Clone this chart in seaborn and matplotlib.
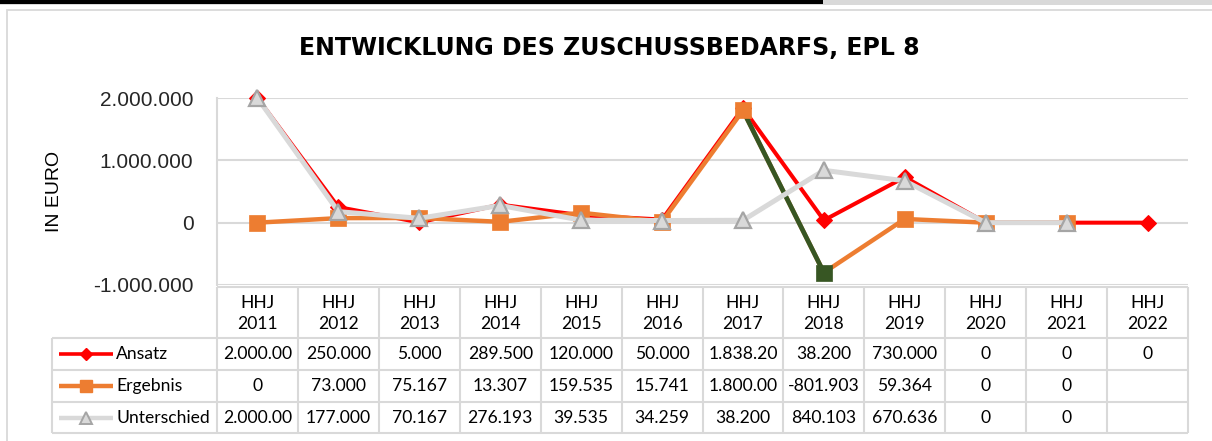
import numpy as np
import pandas as pd
import matplotlib
matplotlib.use("Agg")
import matplotlib.pyplot as plt
from matplotlib.lines import Line2D
from matplotlib.patches import Rectangle
from matplotlib.ticker import FixedLocator, FuncFormatter
import seaborn as sns

# ---- data -------------------------------------------------------------
years = ["2011", "2012", "2013", "2014", "2015", "2016",
         "2017", "2018", "2019", "2020", "2021", "2022"]
ansatz = [2000000, 250000, 5000, 289500, 120000, 50000,
          1838200, 38200, 730000, 0, 0, 0]
ergebnis = [0, 73000, 75167, 13307, 159535, 15741,
            1800000, -801903, 59364, 0, 0, np.nan]
unterschied = [2000000, 177000, 70167, 276193, 39535, 34259,
               38200, 840103, 670636, 0, 0, np.nan]
series_names = ["Ansatz", "Ergebnis", "Unterschied"]
y_ticks = [-1000000, 0, 1000000, 2000000]
title = "ENTWICKLUNG DES ZUSCHUSSBEDARFS, EPL 8"
y_label = "IN EURO"
period_prefix = "HHJ"
# Ergebnis point that is highlighted (year of the drop)
highlight_year = "2018"

# ---- styling ------------------------------------------------------------
RED = "#FF0000"
ORANGE = "#ED7D31"
GREEN = "#375623"
LIGHT = "#D9D9D9"
TRI_EDGE = "#A5A5A5"
GRID = "#D9D9D9"

W, H = 1212, 441
sns.set_theme(style="white")
plt.rcParams["font.family"] = ["Lato", "DejaVu Sans"]

fig = plt.figure(figsize=(W / 100, H / 100), dpi=100)
fig.patch.set_facecolor("white")


def fx(px):
    return px / W


def fy(py):
    return 1 - py / H


# frame strips along the top and the chart-area border
fig.add_artist(Rectangle((0, fy(5)), 1, 5 / H, transform=fig.transFigure,
                         color="#D9D9D9", lw=0, zorder=0))
fig.add_artist(Rectangle((0, fy(3.5)), fx(823), 3.5 / H, transform=fig.transFigure,
                         color="black", lw=0, zorder=1))
fig.add_artist(Rectangle((fx(7), -0.2), 1.2, fy(9.5) + 0.2, transform=fig.transFigure,
                         fill=False, ec="#D9D9D9", lw=1.3, zorder=1))

# ---- plot area -----------------------------------------------------------
PL, PR, PT, PB = 217, 1188, 98, 285
ax = fig.add_axes([fx(PL), fy(PB), fx(PR - PL), (PB - PT) / H])
ax.set_facecolor("none")

idx = np.arange(len(years))
df = pd.DataFrame({
    "pos": np.tile(idx, 3),
    "Jahr": np.tile(years, 3),
    "Serie": np.repeat(series_names, len(years)),
    "Wert": ansatz + ergebnis + unterschied,
})
d_a = df[df.Serie == "Ansatz"]
d_e = df[(df.Serie == "Ergebnis") & df.Wert.notna()]
d_u = df[(df.Serie == "Unterschied") & df.Wert.notna()]
h_pos = years.index(highlight_year)
d_seg = d_e[d_e.pos.isin([h_pos - 1, h_pos])]
d_e_mark = d_e[d_e.pos != h_pos]
d_h_mark = d_e[d_e.pos == h_pos]

common = dict(ax=ax, x="pos", y="Wert", estimator=None, legend=False)
sns.lineplot(data=d_a, color=RED, lw=2.9, marker="D", markersize=8.5,
             markeredgecolor=RED, zorder=3, clip_on=False, **common)
sns.lineplot(data=d_e, color=ORANGE, lw=3.2, zorder=3.5, clip_on=False, **common)
sns.lineplot(data=d_seg, color=GREEN, lw=3.4, zorder=3.6, clip_on=False, **common)
sns.scatterplot(data=d_e_mark, x="pos", y="Wert", ax=ax, marker="s", s=130,
                color=ORANGE, edgecolor=ORANGE, linewidth=0.5, zorder=3.8,
                clip_on=False, legend=False)
sns.scatterplot(data=d_h_mark, x="pos", y="Wert", ax=ax, marker="s", s=130,
                color=GREEN, edgecolor=GREEN, linewidth=0.5, zorder=3.8,
                clip_on=False, legend=False)
sns.lineplot(data=d_u, color=LIGHT, lw=3.6, marker="^", markersize=12,
             markerfacecolor=LIGHT, markeredgecolor=TRI_EDGE, markeredgewidth=1.6,
             zorder=4, clip_on=False, **common)

ax.set_xlim(-0.5, len(years) - 0.5)
ax.set_ylim(y_ticks[0], y_ticks[-1])
ax.yaxis.set_major_locator(FixedLocator(y_ticks))
ax.yaxis.set_major_formatter(FuncFormatter(lambda v, _: f"{v:,.0f}".replace(",", ".")))
ax.set_xticks([])
ax.set_xlabel("")
ax.grid(axis="y", color=GRID, lw=1.5)
ax.grid(axis="x", visible=False)
for side in ("top", "right", "bottom"):
    ax.spines[side].set_visible(False)
ax.spines["left"].set_color(GRID)
ax.spines["left"].set_linewidth(1.5)
ax.tick_params(axis="y", length=0, pad=17, labelsize=15)
for lab in ax.get_yticklabels():
    lab.set_fontfamily("Liberation Sans")
ax.set_ylabel(y_label, fontsize=14, fontfamily="Liberation Sans", color="black")
ax.yaxis.set_label_coords((63 - PL) / (PR - PL), 0.5)

# ---- title -----------------------------------------------------------------
fig.text(fx(609), fy(48), title, ha="center", va="center", fontsize=17,
         fontweight="bold", fontfamily="DejaVu Sans", color="black")

# ---- data table underneath -------------------------------------------------
TL, TT, TB = 52, 287, 433
col_w = (PR - PL) / len(years)
x_left = -0.5 - (PL - TL) / col_w
tax = fig.add_axes([fx(TL), fy(TB), fx(PR - TL), (TB - TT) / H])
tax.set_xlim(x_left, len(years) - 0.5)
tax.set_ylim(TB, TT)
tax.axis("off")

row_edges = [287, 338, 370, 402, 433]
lk = dict(color=GRID, lw=1.5, solid_capstyle="butt", clip_on=False)
tax.plot([-0.5, len(years) - 0.5], [row_edges[0]] * 2, **lk)
for yy in row_edges[1:]:
    tax.plot([x_left, len(years) - 0.5], [yy] * 2, **lk)
for b in np.arange(len(years) + 1) - 0.5:
    tax.plot([b, b], [row_edges[0], row_edges[-1]], **lk)
tax.plot([x_left, x_left], [row_edges[1], row_edges[-1]], **lk)

FS = 12.6
txt = dict(ha="center", va="center", fontsize=FS, color="black")
for i, yr in enumerate(years):
    tax.text(i, (row_edges[0] + row_edges[1]) / 2 + 1, f"{period_prefix}\n{yr}",
             linespacing=1.35, **txt)


def cell(v):
    if v is None or (isinstance(v, float) and np.isnan(v)):
        return ""
    return f"{v:,.0f}".replace(",", ".")[:8]


series_vals = [ansatz, ergebnis, unterschied]
for r, vals in enumerate(series_vals):
    yc = (row_edges[r + 1] + row_edges[r + 2]) / 2
    for i, v in enumerate(vals):
        tax.text(i, yc, cell(v), **txt)


def px_x(p):
    return -0.5 + (p - PL) / col_w


legend_styles = [
    dict(color=RED, lw=2.6, marker="D", markersize=6.5, markeredgecolor=RED),
    dict(color=ORANGE, lw=3.2, marker="s", markersize=9, markeredgecolor=ORANGE),
    dict(color=LIGHT, lw=3.2, marker="^", markersize=9, markerfacecolor=LIGHT,
         markeredgecolor=TRI_EDGE, markeredgewidth=1.4),
]
for r, (name, st) in enumerate(zip(series_names, legend_styles)):
    yc = (row_edges[r + 1] + row_edges[r + 2]) / 2
    tax.add_line(Line2D([px_x(59), px_x(113)], [yc, yc], solid_capstyle="butt",
                        markevery=[], clip_on=False, **st))
    tax.add_line(Line2D([px_x(86)], [yc], linestyle="none", clip_on=False,
                        **{k: v for k, v in st.items() if k != "lw"}))
    tax.text(px_x(116), yc, name, ha="left", va="center", fontsize=FS, color="black")

fig.savefig("out.png", dpi=100)
